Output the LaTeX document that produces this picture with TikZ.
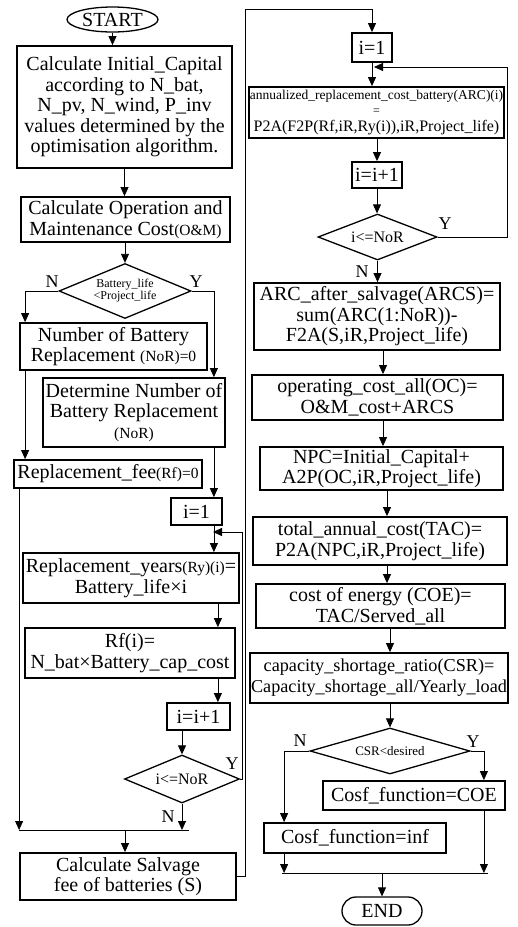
\documentclass[tikz,border=0pt]{standalone}
\usepackage{fontspec}
\setmainfont{Liberation Serif}
\usepackage{tikz}
\usetikzlibrary{arrows.meta,positioning,shapes.geometric}

\newcommand{\smallfnt}{\fontsize{15.5}{16}\selectfont}

\begin{document}
\begin{tikzpicture}[
  x=1pt, y=-1pt,
  font=\fontsize{20}{20.5}\selectfont,
  box/.style={draw, line width=1.8pt, align=center, inner sep=0pt},
  dec/.style={draw, diamond, line width=1.3pt, align=center, inner sep=0pt, aspect=2.4},
  term/.style={draw, line width=1.3pt, inner sep=0pt},
  arr/.style={-{Triangle[length=9pt,width=8pt]}, line width=0.8pt},
  line/.style={line width=0.8pt},
  lbl/.style={font=\fontsize{18}{18}\selectfont, inner sep=0pt}
]
\useasboundingbox (0,0) rectangle (518,927);

% left column
\node[term, ellipse, minimum width=91, minimum height=25] (start) at (112.5,19.5) {START};
\node[box, minimum width=215, minimum height=122] (init) at (124.5,107) {Calculate Initial\_Capital\\according to N\_bat,\\N\_pv, N\_wind, P\_inv\\values determined by the\\optimisation algorithm.};
\node[box, minimum width=209, minimum height=45] (om) at (125.5,219.5) {Calculate Operation and\\Maintenance Cost{\smallfnt(O\&M)}};
\node[dec, minimum width=132, minimum height=55, font=\fontsize{12}{12}\selectfont] (bl) at (125,291) {Battery\_life\\<Project\_life};
\node[box, minimum width=187, minimum height=47] (nor0) at (113.5,346.5) {Number of Battery\\Replacement {\smallfnt(NoR)=0}};
\node[box, minimum width=182, minimum height=69] (nor) at (134,412.5) {Determine Number of\\Battery Replacement\\{\smallfnt(NoR)}};
\node[box, minimum width=188, minimum height=28] (rf0) at (108,474) {Replacement\_fee{\smallfnt(Rf)=0}};
\node[box, minimum width=51, minimum height=27] (i1) at (196.5,511.5) {i=1};
\node[box, minimum width=216, minimum height=50] (ry) at (131,578) {Replacement\_years{\smallfnt(Ry)(i)}=\\Battery\_life×i};
\node[box, minimum width=210, minimum height=50] (rfi) at (130,653) {Rf(i)=\\N\_bat×Battery\_cap\_cost};
\node[box, minimum width=63, minimum height=27] (inc1) at (198.5,716.5) {i=i+1};
\node[dec, minimum width=115, minimum height=48, font=\fontsize{16}{16}\selectfont] (chk1) at (182,779) {i<=NoR};
\coordinate (join1) at (125,830);
\node[box, minimum width=216, minimum height=47] (salv) at (128,876.5) {Calculate Salvage\\fee of batteries (S)};

\node[lbl] (bln) at (52,282) {N};
\node[lbl] (bly) at (196,282) {Y};
\node[lbl] (c1y) at (232,764) {Y};
\node[lbl] (c1n) at (168,817) {N};

% right column
\node[box, minimum width=40, minimum height=29] (i2) at (372,47.5) {i=1};
\node[box, minimum width=255, minimum height=51, font=\fontsize{14}{15}\selectfont] (arc) at (376.5,112.5) {{\fontsize{13.5}{14}\selectfont annualized\_replacement\_cost\_battery(ARC)(i)}\\{\fontsize{12}{12}\selectfont =}\\[2pt]{\fontsize{16}{16}\selectfont P2A(F2P(Rf,iR,Ry(i)),iR,Project\_life)}};
\node[box, minimum width=50, minimum height=26] (inc2) at (377,175) {i=i+1};
\node[dec, minimum width=119, minimum height=46, font=\fontsize{16}{16}\selectfont] (chk2) at (377.5,237) {i<=NoR};
\node[box, minimum width=246, minimum height=67] (arcs) at (377,316.5) {ARC\_after\_salvage(ARCS)=\\sum(ARC(1:NoR))-\\F2A(S,iR,Project\_life)};
\node[box, minimum width=251, minimum height=45] (oc) at (377.5,397.5) {operating\_cost\_all(OC)=\\O\&M\_cost+ARCS};
\node[box, minimum width=243, minimum height=43] (npc) at (381.5,468.5) {NPC=Initial\_Capital+\\A2P(OC,iR,Project\_life)};
\node[box, minimum width=254, minimum height=48] (tac) at (380,541) {total\_annual\_cost(TAC)=\\P2A(NPC,iR,Project\_life)};
\node[box, minimum width=249, minimum height=44] (coe) at (380.5,606) {cost of energy (COE)=\\TAC/Served\_all};
\node[box, minimum width=258, minimum height=50, font=\fontsize{18.2}{21}\selectfont] (csr) at (379,678) {capacity\_shortage\_ratio(CSR)=\\Capacity\_shortage\_all/Yearly\_load};
\node[dec, minimum width=160, minimum height=46, font=\fontsize{13}{13}\selectfont] (chk3) at (390,751) {CSR<desired};
\node[box, minimum width=182, minimum height=29] (fcoe) at (414,795.5) {Cosf\_function=COE};
\node[box, minimum width=182, minimum height=30] (finf) at (355,838) {Cosf\_function=inf};
\coordinate (join2) at (382,873);
\node[term, rounded corners=14pt, minimum width=80, minimum height=28] (end) at (382,911) {END};

\node[lbl] (c2y) at (445,224) {Y};
\node[lbl] (c2n) at (362,272) {N};
\node[lbl] (c3n) at (300,741) {N};
\node[lbl] (c3y) at (473,742) {Y};

% corners of the long connectors
\coordinate (back1) at (213,532);
\coordinate (lane1) at (242,532);
\coordinate (top1) at (245,9);
\coordinate (back2) at (374,67);
\coordinate (lane2) at (507,67);

% left connectors
\draw[arr] (start) -- (start |- init.north);
\draw[arr] (init.south) -- (init.south |- om.north);
\draw[arr] (om.south -| bl.north) -- (bl.north);
\draw[arr] (bl.west) -| ([xshift=6pt]nor0.north west);
\draw[arr] (bl.east) -| ([xshift=-12pt]nor.north east);
\draw[arr] ([xshift=6pt]nor0.south west) -- ([xshift=6pt]nor0.south west |- rf0.north);
\draw[arr] ([xshift=-12pt]nor.south east) -- ([xshift=-12pt]nor.south east |- i1.north);
\draw[arr] ([xshift=-9pt]i1.south east) -- ([xshift=-9pt]i1.south east |- ry.north);
\draw[arr] ([xshift=-22pt]ry.south east) -- ([xshift=-22pt]ry.south east |- rfi.north);
\draw[arr] ([xshift=-18pt]rfi.south east) -- ([xshift=-18pt]rfi.south east |- inc1.north);
\draw[arr] (inc1.south -| chk1.north) -- (chk1.north);
\draw[arr] (chk1.east) -| (lane1) -- (back1);
\draw[arr] (chk1.south) -- (chk1.south |- join1);
\draw[arr] ([xshift=6pt]rf0.south west) -- ([xshift=6pt]rf0.south west |- join1);
\draw[line] ([xshift=6pt]rf0.south west |- join1) -- ([xshift=7pt]chk1.south |- join1);
\draw[arr] (join1) -- (join1 |- salv.north);
\draw[arr] (salv.east) -| (top1) -| (i2.north);

% right connectors
\draw[arr] (i2.south) -- (i2.south |- arc.north);
\draw[arr] (chk2.east) -| (lane2) -- (back2);
\draw[arr] (arc.south -| inc2.north) -- (inc2.north);
\draw[arr] (inc2.south) -- (inc2.south |- chk2.north);
\draw[arr] (chk2.south) -- (chk2.south |- arcs.north);
\draw[arr] ([xshift=6pt]arcs.south) -- ([xshift=6pt]arcs.south |- oc.north);
\draw[arr] ([xshift=5.5pt]oc.south) -- ([xshift=5.5pt]oc.south |- npc.north);
\draw[arr] ([xshift=5.5pt]npc.south) -- ([xshift=5.5pt]npc.south |- tac.north);
\draw[arr] ([xshift=7pt]tac.south) -- ([xshift=7pt]tac.south |- coe.north);
\draw[arr] ([xshift=9.5pt]coe.south) -- ([xshift=9.5pt]coe.south |- csr.north);
\draw[arr] (csr.south -| chk3.north) -- (chk3.north);
\draw[arr] (chk3.west) -| ([xshift=21pt]finf.north west);
\draw[arr] (chk3.east) -| ([xshift=-22pt]fcoe.north east);
\draw[arr] ([xshift=-22pt]fcoe.south east) -- ([xshift=-22pt]fcoe.south east |- join2);
\draw[arr] ([xshift=21pt]finf.south west) -- ([xshift=21pt]finf.south west |- join2);
\draw[line] ([xshift=19pt]finf.south west |- join2) -- ([xshift=-18pt]fcoe.south east |- join2);
\draw[arr] (join2) -- (end);
\end{tikzpicture}
\end{document}
